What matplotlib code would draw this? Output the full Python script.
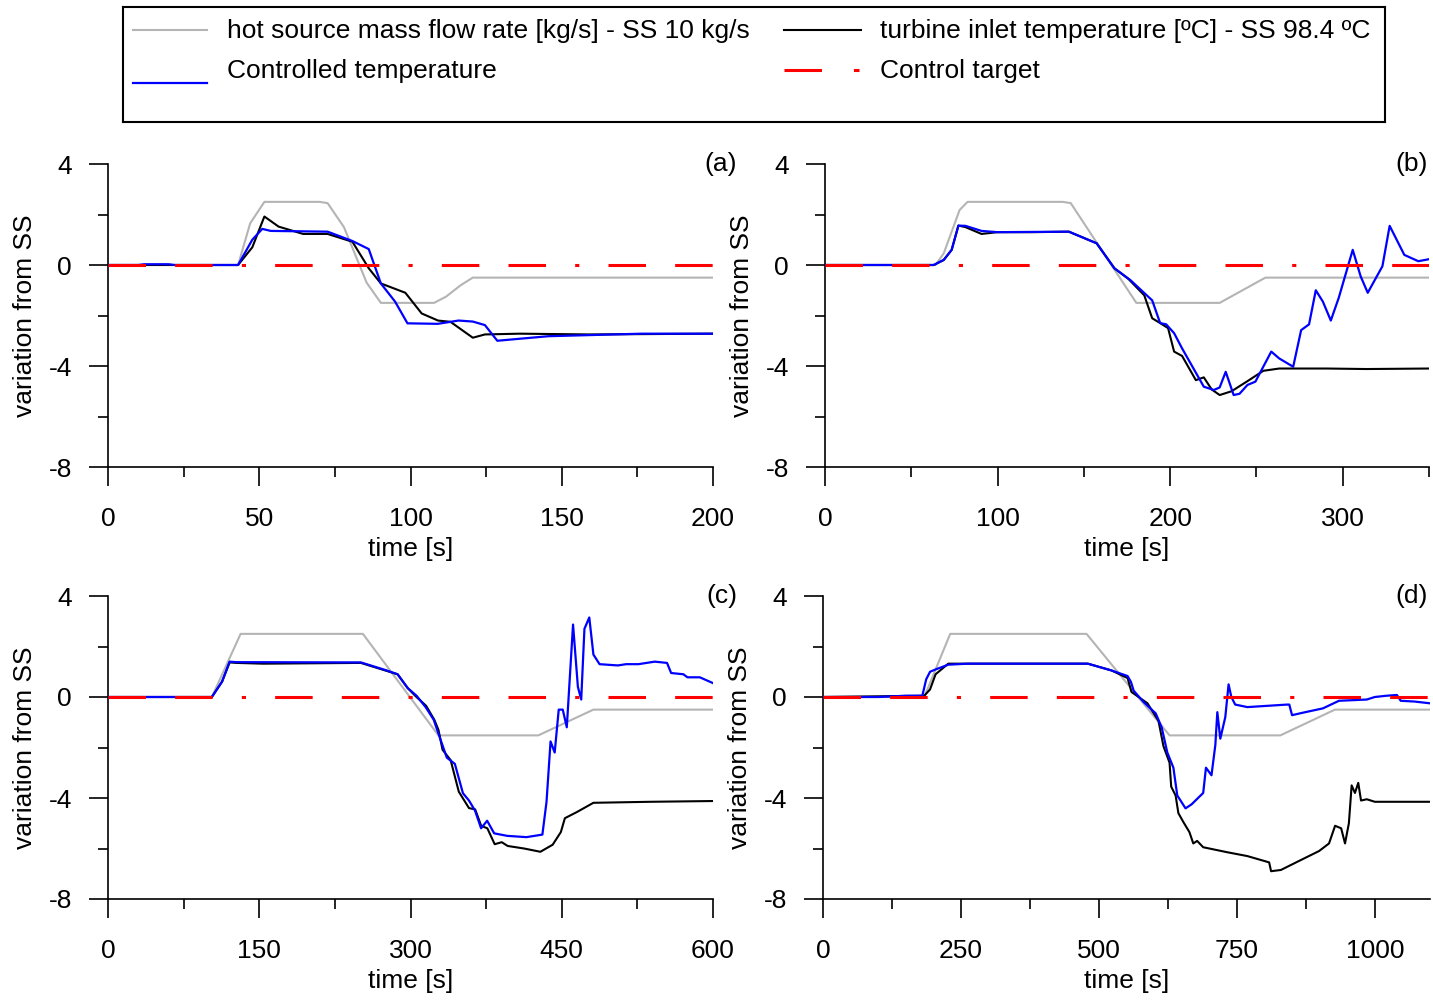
import matplotlib
matplotlib.use("Agg")
import matplotlib.pyplot as plt
from matplotlib.ticker import MultipleLocator

plt.rcParams['font.family'] = ['Liberation Sans', 'DejaVu Sans']
plt.rcParams['font.size'] = 19
plt.rcParams['lines.scale_dashes'] = False
plt.rcParams['axes.unicode_minus'] = False

# ---- data (time [s], variation from SS) ----
a_t_gray = [0, 43, 47, 51.7, 70, 72.6, 78, 85.5, 90.2, 107.8, 111.8, 116.6, 120.6, 200]
a_gray = [0, 0, 1.65, 2.5, 2.5, 2.45, 1.5, -0.7, -1.5, -1.5, -1.25, -0.8, -0.5, -0.5]
a_t_black = [0, 43, 47.7, 51.7, 56.4, 64.5, 72.6, 80.8, 86.2, 90.2, 98.3, 103.7,
             109.1, 113.2, 120.6, 124.6, 136.1, 159, 200]
a_black = [0, 0, 0.7, 1.92, 1.52, 1.23, 1.23, 0.92, -0.13, -0.73, -1.1, -1.92,
           -2.2, -2.25, -2.88, -2.75, -2.72, -2.75, -2.72]
a_t_blue = [0, 10, 12, 20, 22, 43, 47.7, 51, 53.8, 72.6, 80.8, 86.2, 90.2, 94.9, 99,
            109, 115.9, 120.6, 124.6, 128.7, 145.6, 176.6, 200]
a_blue = [0, 0, 0.03, 0.03, 0, 0, 1.0, 1.43, 1.35, 1.32, 0.95, 0.63, -0.73, -1.45, -2.31,
          -2.33, -2.2, -2.24, -2.38, -3.0, -2.82, -2.72, -2.72]

b_t_gray = [0, 64, 68.8, 78, 82.6, 137.8, 142.4, 180.4, 228.7, 255.2, 350]
b_gray = [0, 0, 0.46, 2.18, 2.5, 2.5, 2.45, -1.5, -1.5, -0.5, -0.5]
b_t_black = [0, 63, 68.8, 73.4, 77.3, 81.4, 90.7, 99.9, 120.6, 141.3, 157.4, 167.7,
             175.8, 185, 189.6, 194.2, 198.8, 202.3, 206.9, 214.9, 219.5, 224.1, 228.7,
             235.6, 244.8, 254, 263.2, 290.8, 313.8, 350]
b_black = [0, 0, 0.2, 0.6, 1.56, 1.5, 1.23, 1.3, 1.3, 1.32, 0.86, -0.13,
           -0.55, -1.2, -2.11, -2.3, -2.5, -3.43, -3.6, -4.56, -4.45, -4.93, -5.15,
           -5.0, -4.6, -4.19, -4.1, -4.1, -4.12, -4.1]
b_t_blue = [0, 63, 68.8, 73.4, 77.3, 81.4, 90.7, 99.9, 141.3, 157.4, 167.7, 177, 188,
            189.6, 194.2, 197.7, 202.3, 206.9, 219.5, 225.3, 228.7, 232.2, 236.8, 240.2,
            244.8, 249.4, 258.6, 263.2, 271.3, 275.9, 280.5, 284.4, 288.5, 293.1, 297.7,
            305.8, 310.4, 314.5, 323.0, 327.2, 335.7, 343.8, 350]
b_blue = [0, 0, 0.2, 0.6, 1.56, 1.55, 1.35, 1.3, 1.32, 0.86, -0.13, -0.6, -1.3,
          -1.4, -2.3, -2.35, -2.7, -3.3, -4.82, -4.95, -4.85, -4.23, -5.15, -5.1,
          -4.75, -4.62, -3.43, -3.7, -4.03, -2.58, -2.35, -1.0, -1.45, -2.2, -1.3,
          0.6, -0.45, -1.1, -0.05, 1.55, 0.4, 0.15, 0.23]

c_t_gray = [0, 103, 131.5, 252.8, 327.7, 426.8, 481.4, 600]
c_gray = [0, 0, 2.5, 2.5, -1.52, -1.52, -0.5, -0.5]
c_t_black = [0, 103, 113.3, 120.6, 127.4, 153.7, 250.8, 275, 287.2, 297.3, 305.4, 315.5,
             323.6, 327.7, 331.8, 339.8, 347.9, 358, 364.1, 370.1, 376.2, 383.5, 390.5,
             396.4, 412.6, 428.8, 441, 449.1, 453.1, 465.3, 481.4, 538, 600]
c_black = [0, 0, 0.62, 1.37, 1.35, 1.32, 1.35, 1.05, 0.9, 0.35, 0.02, -0.35,
           -0.9, -1.3, -2.09, -2.5, -3.75, -4.4, -4.45, -5.1, -5.2, -5.83, -5.75,
           -5.9, -6.0, -6.13, -5.85, -5.35, -4.8, -4.55, -4.19, -4.15, -4.12]
c_t_blue = [0, 103, 113, 120.6, 127, 250.8, 275, 287.2, 297.3, 306, 315, 323, 331, 336,
            344, 352, 358, 364, 370, 376, 383, 396, 415, 430.8, 434.9, 438.9, 443, 447,
            451, 455, 461.2, 466, 469.3, 472.5, 477.3, 481.4, 487.5, 505.7, 513.8, 526,
            542.2, 554.4, 558.5, 570.6, 574.7, 586.9, 600]
c_blue = [0, 0, 0.6, 1.4, 1.38, 1.37, 1.07, 0.9, 0.35, 0.05, -0.4, -0.9, -1.83, -2.4,
          -2.65, -3.81, -4.1, -4.5, -5.2, -4.9, -5.4, -5.5, -5.55, -5.45, -4.15, -1.76, -2.2, -0.5,
          -0.5, -1.2, 2.87, 0.4, -0.1, 2.7, 3.15, 1.68, 1.3, 1.25, 1.3, 1.3,
          1.4, 1.35, 0.95, 0.9, 0.78, 0.78, 0.55]

d_t_gray = [0, 183.5, 230.5, 477.6, 628, 828.8, 927.7, 1100]
d_gray = [0, 0, 2.5, 2.5, -1.52, -1.52, -0.5, -0.5]
d_t_black = [0, 183.5, 194, 204, 227, 480, 523, 552, 559, 588, 608, 617, 628, 631, 639,
             644, 653, 664, 671, 678, 689, 733, 769, 808.5, 812, 829.8, 862, 899, 917,
             928, 939, 946, 953, 958, 964, 970, 975, 985.5, 1000, 1100]
d_black = [0, 0.05, 0.3, 0.9, 1.32, 1.32, 1.05, 0.75, 0.2, -0.25, -0.95, -1.95, -2.6, -3.55, -3.9,
           -4.6, -4.95, -5.35, -5.8, -5.7, -5.95, -6.15, -6.3, -6.55, -6.9, -6.85, -6.5, -6.1, -5.8,
           -5.1, -5.2, -5.8, -5.0, -3.5, -3.8, -3.4, -4.1, -4.05, -4.15, -4.15]
d_t_blue = [0, 100, 150, 180, 187, 194, 205, 227, 263, 479.8, 523, 552, 558, 563, 581, 603,
            613.7, 624, 635, 642, 657, 668, 689, 694, 704, 711, 714.6, 720, 729, 735, 740,
            747, 769, 841, 845, 850, 870, 906, 935, 985.5, 1000, 1021, 1040, 1047, 1072, 1100]
d_blue = [0, 0, 0.05, 0.05, 0.7, 1.0, 1.1, 1.28, 1.32, 1.32, 1.05, 0.83, 0.6, 0.25, -0.2, -0.65,
          -1.2, -2.2, -2.8, -3.9, -4.41, -4.25, -3.8, -2.8, -3.1, -1.9, -0.6, -1.65, -0.8, 0.5, 0.0,
          -0.3, -0.4, -0.3, -0.3, -0.72, -0.62, -0.45, -0.15, -0.1, 0.0, 0.05, 0.08, -0.15, -0.18, -0.25]

target = 0.0

panel_labels = ['(a)', '(b)', '(c)', '(d)']
x_max = [200, 350, 600, 1100]
x_major = [50, 100, 150, 250]
x_minor = [25, 50, 75, 125]

legend_labels = ['hot source mass flow rate [kg/s] - SS 10 kg/s',
                 'turbine inlet temperature [ºC] - SS 98.4 ºC',
                 'Controlled temperature',
                 'Control target']

GRAY = '#b4b4b4'
BLUE = '#0000ff'
RED = '#ff0000'
TARGET_DASH = (27, 21, 27, 21, 3, 21)

W, H = 1433, 1000
fig = plt.figure(figsize=(W / 100, H / 100), dpi=100)

# axes boxes in pixels: left, right, top, bottom
boxes = [(108, 713, 164, 467), (825, 1429, 164, 467),
         (108, 713, 596, 899), (823, 1430, 596, 899)]
# right edge (pixels) of the panel letters
label_right = [737, 1428, 737, 1428]

series = [(a_t_gray, a_gray, a_t_black, a_black, a_t_blue, a_blue),
          (b_t_gray, b_gray, b_t_black, b_black, b_t_blue, b_blue),
          (c_t_gray, c_gray, c_t_black, c_black, c_t_blue, c_blue),
          (d_t_gray, d_gray, d_t_black, d_black, d_t_blue, d_blue)]

for i, (l, r, t, b) in enumerate(boxes):
    ax = fig.add_axes([l / W, 1 - b / H, (r - l) / W, (b - t) / H])
    tg, g, tk, k, tb, bl = series[i]
    ax.plot(tg, g, color=GRAY, lw=1.5, zorder=2)
    ax.plot(tk, k, color='black', lw=1.5, zorder=3)
    ax.plot(tb, bl, color=BLUE, lw=1.6, zorder=4)
    ax.plot([0, x_max[i]], [target, target], color=RED, lw=2.2,
            dashes=TARGET_DASH, zorder=5)

    ax.set_xlim(0, x_max[i])
    ax.set_ylim(-8, 4)
    ax.xaxis.set_major_locator(MultipleLocator(x_major[i]))
    ax.xaxis.set_minor_locator(MultipleLocator(x_minor[i]))
    ax.yaxis.set_major_locator(MultipleLocator(4))
    ax.yaxis.set_minor_locator(MultipleLocator(2))
    for s in ['top', 'right']:
        ax.spines[s].set_visible(False)
    for s in ['left', 'bottom']:
        ax.spines[s].set_linewidth(1.2)
    ax.tick_params(which='major', direction='out', length=14, width=1.2)
    ax.tick_params(axis='x', which='major', pad=15)
    ax.tick_params(axis='y', which='major', pad=12)
    ax.tick_params(which='minor', direction='out', length=7.5, width=1.2)
    ax.set_xlabel('time [s]', labelpad=4)
    ax.set_ylabel('variation from SS', labelpad=8)
    fig.text(label_right[i] / W, 1 - t / H, panel_labels[i], ha='right', va='center')

# legend box drawn in pixel coordinates
lx0, lx1, ly0, ly1 = 123, 1385, 7, 122
lax = fig.add_axes([lx0 / W, 1 - ly1 / H, (lx1 - lx0) / W, (ly1 - ly0) / H])
lax.set_xlim(lx0, lx1)
lax.set_ylim(ly1, ly0)
lax.set_xticks([])
lax.set_yticks([])
for s in lax.spines.values():
    s.set_linewidth(1.5)
lax.plot([133, 207], [30, 30], color=GRAY, lw=1.5)
lax.plot([784, 861], [30, 30], color='black', lw=1.5)
lax.plot([133, 207], [83, 83], color=BLUE, lw=1.6)
lax.plot([784, 861], [70, 70], color=RED, lw=2.2, dashes=(27, 23, 4, 40))
lax.text(227, 31, legend_labels[0], va='center', ha='left')
lax.text(880, 31, legend_labels[1], va='center', ha='left')
lax.text(227, 71, legend_labels[2], va='center', ha='left')
lax.text(880, 71, legend_labels[3], va='center', ha='left')

fig.savefig('out.png', dpi=100)
